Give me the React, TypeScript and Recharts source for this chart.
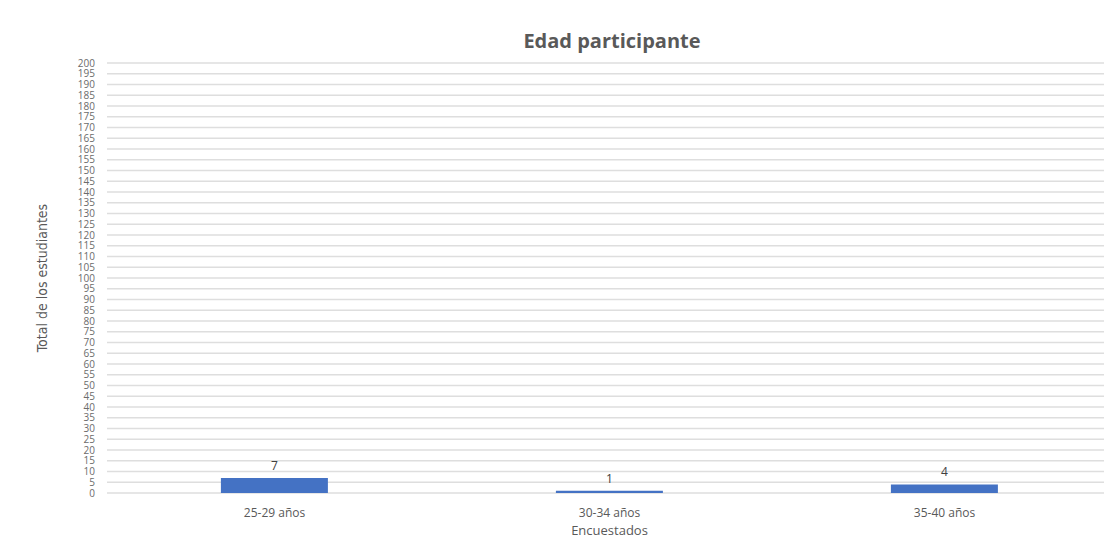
import { Bar, BarChart, CartesianGrid, LabelList, XAxis, YAxis } from "recharts";

const categories = ["25-29 años", "30-34 años", "35-40 años"];
const values = [7, 1, 4];
const yTicks = Array.from({ length: 41 }, (_, i) => i * 5);

const chartData = categories.map((name, i) => ({ name, value: values[i] }));

const font = "'Open Sans', 'Noto Sans', sans-serif";

export default function App() {
  return (
    <div
      style={{
        position: "absolute",
        left: 0,
        top: 0,
        width: 1104,
        height: 538,
        overflow: "hidden",
        background: "#fff",
        fontFamily: font,
      }}
    >
      <div
        style={{
          position: "absolute",
          top: 27,
          left: 0,
          width: 1224,
          textAlign: "center",
          fontSize: 20,
          fontWeight: 700,
          color: "#595959",
        }}
      >
        Edad participante
      </div>
      <BarChart
        width={1120}
        height={538}
        data={chartData}
        margin={{ top: 63, right: 8, left: 38, bottom: 15 }}
        barCategoryGap="34%"
      >
        <CartesianGrid vertical={false} stroke="#dedede" strokeWidth={1.5} />
        <XAxis
          dataKey="name"
          height={30}
          axisLine={false}
          tickLine={false}
          tick={{ fontSize: 12, fill: "#595959", fontFamily: font }}
          tickMargin={9}
          label={{
            value: "Encuestados",
            position: "insideBottom",
            offset: -12,
            fontSize: 13,
            fill: "#595959",
            fontFamily: font,
          }}
        />
        <YAxis
          domain={[0, 200]}
          ticks={yTicks}
          interval={0}
          axisLine={false}
          tickLine={false}
          width={69}
          tickMargin={6}
          tick={{ fontSize: 10, fill: "#6b6b6b", fontFamily: font }}
          label={{
            value: "Total de los estudiantes",
            angle: -90,
            position: "insideLeft",
            offset: 4,
            style: { textAnchor: "middle" },
            fontSize: 14,
            fill: "#595959",
            fontFamily: "'Liberation Sans Narrow', 'DejaVu Sans Condensed', sans-serif",
          }}
        />
        <Bar dataKey="value" fill="#4472C4" isAnimationActive={false}>
          <LabelList
            dataKey="value"
            position="top"
            offset={8}
            fontSize={12}
            fill="#404040"
            fontFamily={font}
          />
        </Bar>
      </BarChart>
    </div>
  );
}
